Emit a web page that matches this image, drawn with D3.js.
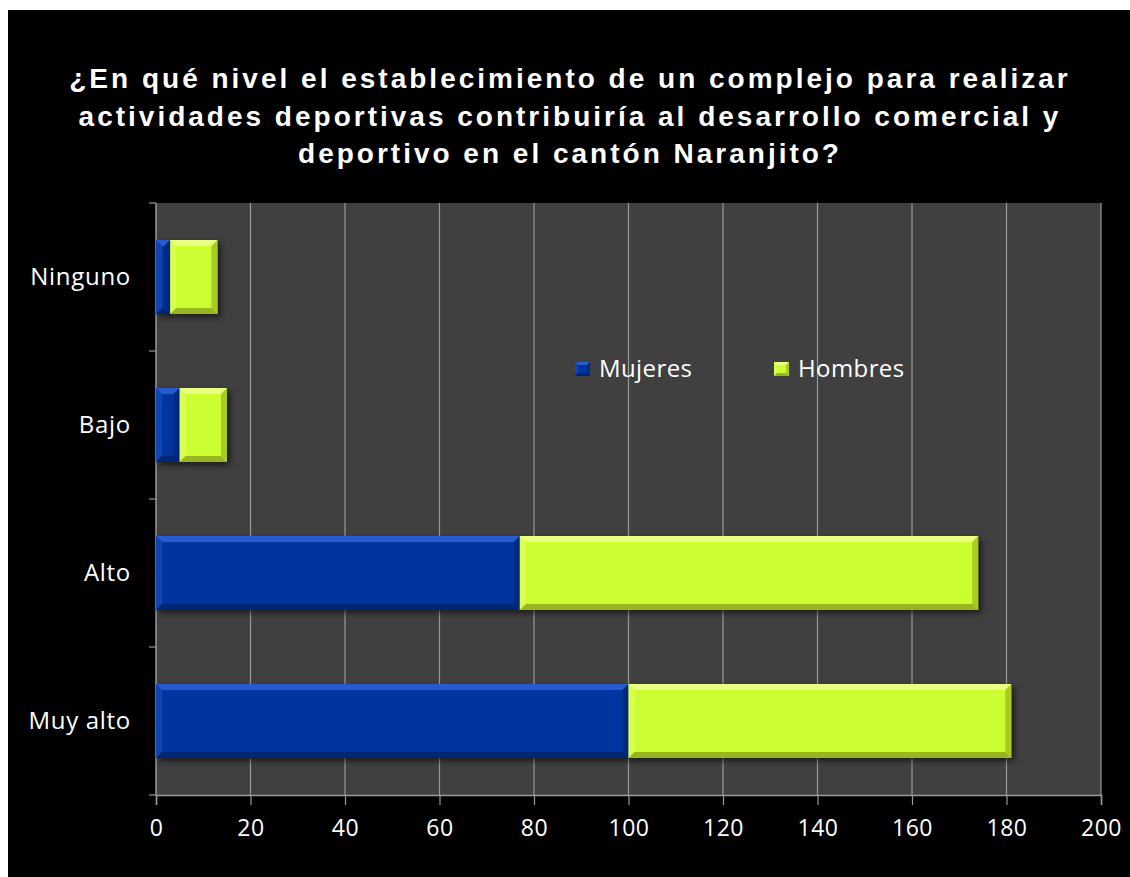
<!DOCTYPE html>
<html>
<head>
<meta charset="utf-8">
<script src="https://cdn.jsdelivr.net/npm/d3@7"></script>
<style>
  body { margin: 0; background: #fff; }
  svg { display: block; }
</style>
</head>
<body>
<div id="chart"></div>
<script>
// data
var categories = ["Ninguno", "Bajo", "Alto", "Muy alto"];
var mujeres = [3, 5, 77, 100];
var hombres = [10, 10, 97, 81];
var seriesNames = ["Mujeres", "Hombres"];
var xTicks = [0, 20, 40, 60, 80, 100, 120, 140, 160, 180, 200];
var titleLines = [
  "¿En qué nivel el establecimiento de un complejo para realizar",
  "actividades deportivas contribuiría al desarrollo comercial y",
  "deportivo en el cantón Naranjito?"
];

var width = 1130, height = 877;
var plot = {left: 156, right: 1101, top: 203, bottom: 795};
var labelFont = "'Open Sans', 'Noto Sans', sans-serif";

var svg = d3.select("#chart").append("svg")
    .attr("width", width).attr("height", height);

// black frame with thin white border top/left
svg.append("rect").attr("x", 8).attr("y", 10)
    .attr("width", width - 8).attr("height", height - 10).attr("fill", "#000");

var defs = svg.append("defs");
var shadow = defs.append("filter").attr("id", "shadow")
    .attr("x", "-10%").attr("y", "-20%").attr("width", "130%").attr("height", "150%");
shadow.append("feDropShadow").attr("dx", 3).attr("dy", 3).attr("stdDeviation", 3)
    .attr("flood-color", "#000").attr("flood-opacity", 0.6);

// title
svg.append("g").selectAll("text")
  .data(titleLines)
  .enter().append("text")
    .attr("x", 570)
    .attr("y", function(d, i) { return 88 + i * 37.5; })
    .attr("text-anchor", "middle")
    .attr("fill", "#fff")
    .style("font-family", "'Liberation Sans', Arial, sans-serif")
    .style("font-weight", "bold")
    .style("font-size", "28px")
    .style("letter-spacing", "3px")
    .text(function(d) { return d; });

var x = d3.scaleLinear().domain([0, 200]).range([plot.left, plot.right]);
var y = d3.scaleBand().domain(categories).range([plot.top, plot.bottom])
    .paddingInner(0.5).paddingOuter(0.25);

// plot background
svg.append("rect")
    .attr("x", plot.left).attr("y", plot.top)
    .attr("width", plot.right - plot.left).attr("height", plot.bottom - plot.top)
    .attr("fill", "#404040");

// vertical gridlines
svg.append("g").selectAll("line")
  .data(xTicks.slice(1))
  .enter().append("line")
    .attr("x1", function(d) { return x(d); }).attr("x2", function(d) { return x(d); })
    .attr("y1", plot.top).attr("y2", plot.bottom)
    .attr("stroke", "#9a9a9a").attr("stroke-width", 1.2);

// x axis
var xAxis = svg.append("g")
    .attr("transform", "translate(0," + plot.bottom + ")")
    .call(d3.axisBottom(x).tickValues(xTicks).tickSize(10).tickPadding(15));
xAxis.select(".domain").attr("stroke", "#9a9a9a").attr("stroke-width", 1.5);
xAxis.selectAll(".tick line").attr("stroke", "#9a9a9a").attr("stroke-width", 1.2);
xAxis.selectAll("text")
    .attr("fill", "#fff")
    .style("font-family", labelFont)
    .style("font-size", "23px")
    .style("letter-spacing", "0.5px");

// y axis: line + ticks at band boundaries
var edges = categories.map(function(c) { return y(c) - y.step() * y.paddingInner() / 2; });
edges.push(plot.bottom);
edges[0] = plot.top;
var yAxis = svg.append("g");
yAxis.append("line")
    .attr("x1", plot.left).attr("x2", plot.left)
    .attr("y1", plot.top).attr("y2", plot.bottom)
    .attr("stroke", "#9a9a9a").attr("stroke-width", 1.5);
yAxis.selectAll(".yt")
  .data(edges)
  .enter().append("line")
    .attr("class", "yt")
    .attr("x1", plot.left - 7).attr("x2", plot.left)
    .attr("y1", function(d) { return d; }).attr("y2", function(d) { return d; })
    .attr("stroke", "#9a9a9a").attr("stroke-width", 1.2);
yAxis.selectAll("text")
  .data(categories)
  .enter().append("text")
    .attr("x", 131)
    .attr("y", function(d) { return y(d) + y.bandwidth() / 2; })
    .attr("dy", "0.35em")
    .attr("text-anchor", "end")
    .attr("fill", "#fff")
    .style("font-family", labelFont)
    .style("font-size", "24px")
    .style("letter-spacing", "0.7px")
    .text(function(d) { return d; });

// bevelled bar
var palette = [
  {base: "#0035a0", light: "#2f63d8", dark: "#00246e"},
  {base: "#ccff33", light: "#f0ff90", dark: "#8fa820"}
];

function bevelRect(g, x0, y0, w, h, col, b) {
  g.append("rect").attr("x", x0).attr("y", y0).attr("width", w).attr("height", h)
      .attr("fill", col.base);
  var bb = Math.min(b, w / 2);
  var pts = function(a) { return a.map(function(p) { return p.join(","); }).join(" "); };
  // top
  g.append("polygon").attr("fill", col.light).attr("opacity", 0.85)
      .attr("points", pts([[x0, y0], [x0 + w, y0], [x0 + w - bb, y0 + b], [x0 + bb, y0 + b]]));
  // left
  g.append("polygon").attr("fill", col.light).attr("opacity", 0.35)
      .attr("points", pts([[x0, y0], [x0 + bb, y0 + b], [x0 + bb, y0 + h - b], [x0, y0 + h]]));
  // right
  g.append("polygon").attr("fill", col.dark).attr("opacity", 0.6)
      .attr("points", pts([[x0 + w, y0], [x0 + w, y0 + h], [x0 + w - bb, y0 + h - b], [x0 + w - bb, y0 + b]]));
  // bottom
  g.append("polygon").attr("fill", col.dark).attr("opacity", 0.85)
      .attr("points", pts([[x0, y0 + h], [x0 + w, y0 + h], [x0 + w - bb, y0 + h - b], [x0 + bb, y0 + h - b]]));
}

var stacked = d3.stack().keys([0, 1])(categories.map(function(c, i) {
  return {0: mujeres[i], 1: hombres[i], cat: c};
}));

var bars = svg.append("g");
stacked.forEach(function(layer, si) {
  layer.forEach(function(d) {
    var g = bars.append("g").attr("filter", "url(#shadow)");
    var x0 = x(d[0]), x1 = x(d[1]);
    bevelRect(g, x0, y(d.data.cat), x1 - x0, y.bandwidth(), palette[si], 6);
  });
});

// legend
var legend = svg.append("g");
var legendX = [575, 774];
seriesNames.forEach(function(name, i) {
  var lg = legend.append("g").attr("transform", "translate(" + legendX[i] + ",362)");
  bevelRect(lg, 0, 0, 15, 14, palette[i], 3);
  lg.append("text")
      .attr("x", 24).attr("y", 7).attr("dy", "0.35em")
      .attr("fill", "#fff")
      .style("font-family", labelFont)
      .style("font-size", "24px")
      .style("letter-spacing", "0.4px")
      .text(name);
});
</script>
</body>
</html>
